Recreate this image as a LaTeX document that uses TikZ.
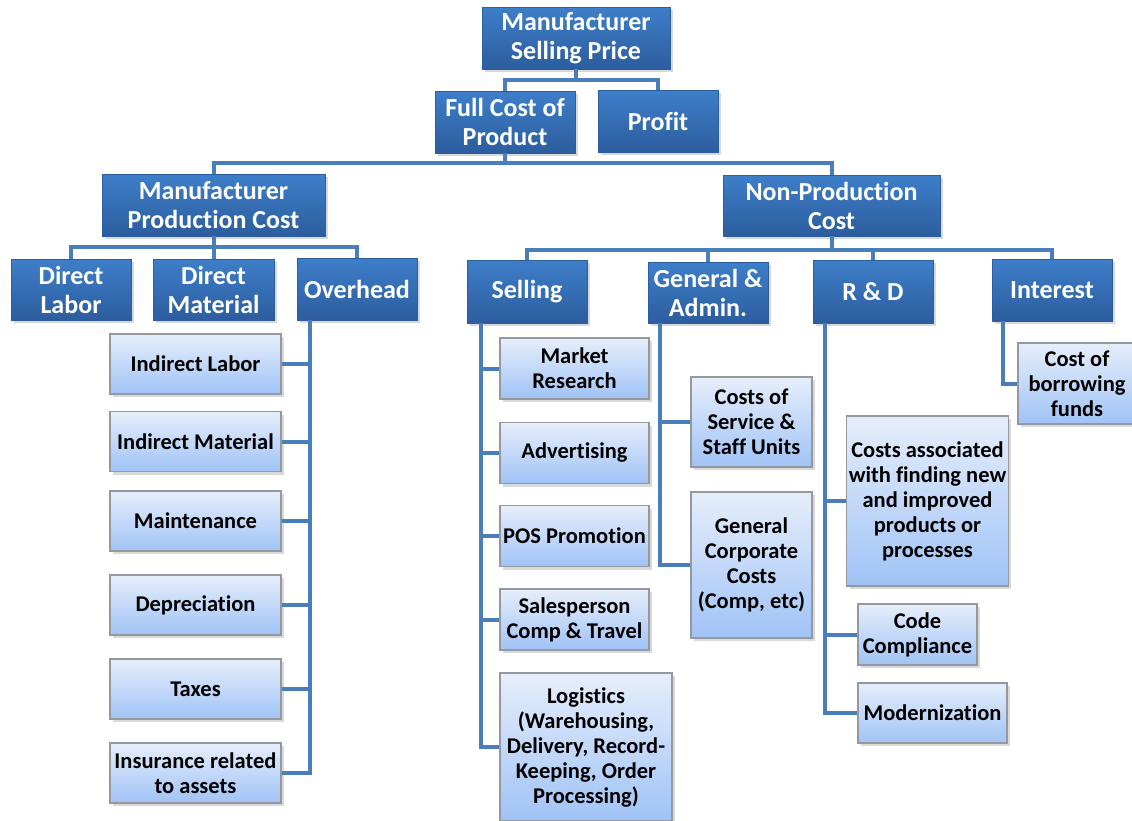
\documentclass[tikz,border=0pt]{standalone}
\usepackage{fontspec}
\setmainfont{Carlito}[Ligatures={NoCommon}]
\usetikzlibrary{positioning}
\usetikzlibrary{calc}
\usetikzlibrary{shadows}

\definecolor{darktop}{RGB}{62,126,201}
\definecolor{darkbot}{RGB}{44,93,158}
\definecolor{lighttop}{RGB}{230,238,251}
\definecolor{lightbot}{RGB}{160,195,246}
\definecolor{linkblue}{RGB}{74,126,187}
\definecolor{boxgray}{RGB}{150,152,160}

\tikzset{
  head/.style={draw=darkbot, line width=0.8pt, top color=darktop, bottom color=darkbot,
    text=white, align=center, inner sep=2pt, font=\bfseries\fontsize{26}{29}\selectfont,
    drop shadow={shadow xshift=3pt,shadow yshift=-3pt,opacity=0.3}},
  leaf/.style={draw=boxgray, line width=1.2pt, top color=lighttop, bottom color=lightbot,
    text=black, align=center, inner sep=2pt, font=\bfseries\fontsize{22.5}{25}\selectfont,
    drop shadow={shadow xshift=3pt,shadow yshift=-3pt,opacity=0.3}},
  wh/.style 2 args={minimum width=#1pt, minimum height=#2pt},
  link/.style={draw=linkblue, line width=4pt}
}

\begin{document}
\begin{tikzpicture}[x=1pt,y=-1pt]
	\clip (0,0) rectangle (1132,820);
	% price and its two parts
	\node[head, wh={188}{62}] (msp) at (576,38) {Manufacturer\\Selling Price};
	\node[head, wh={140}{62}] (fcp) at (505,122) {Full Cost of\\Product};
	\node[head, wh={120}{62}] (profit) at (658,121) {Profit};
	\node[head, wh={223}{62}] (mpc) at (213.5,205) {Manufacturer\\Production Cost};
	\node[head, wh={217}{61}] (npc) at (831.5,205.5) {Non-Production\\Cost};
	% production side
	\node[head, wh={120}{61}] (dl) at (71,289.5) {Direct\\Labor};
	\node[head, wh={121}{61}] (dm) at (213.5,289.5) {Direct\\Material};
	\node[head, wh={120}{62}] (oh) at (357,289) {Overhead};
	\node[leaf, wh={171}{60}] (il) at (195.5,364) {Indirect Labor};
	\node[leaf, wh={171}{60}] (im) at (195.5,441.5) {Indirect Material};
	\node[leaf, wh={171}{60}] (mt) at (195.5,521) {Maintenance};
	\node[leaf, wh={171}{60}] (dp) at (195.5,605) {Depreciation};
	\node[leaf, wh={171}{60}] (tx) at (195.5,689) {Taxes};
	\node[leaf, wh={171}{60}] (ins) at (195.5,773) {Insurance related\\to assets};
	% non-production side
	\node[head, wh={120}{63}] (sell) at (527,291.5) {Selling};
	\node[head, wh={120}{61}] (ga) at (708,292.5) {General \&\\Admin.};
	\node[head, wh={120}{63}] (rd) at (873,291.5) {R \& D};
	\node[head, wh={120}{62}] (int) at (1052,290) {Interest};
	\node[leaf, wh={149}{61}] (mr) at (574.5,368.5) {Market\\Research};
	\node[leaf, wh={149}{61}] (adv) at (574.5,453) {Advertising};
	\node[leaf, wh={149}{61}] (pos) at (574.5,536) {POS Promotion};
	\node[leaf, wh={149}{61}] (sp) at (574.5,619.5) {Salesperson\\Comp \& Travel};
	\node[leaf, wh={172}{148}] (log) at (586,747) {Logistics\\(Warehousing,\\Delivery, Record-\\Keeping, Order\\Processing)};
	\node[leaf, wh={121}{90}] (cos) at (751.5,422) {Costs of\\Service \&\\Staff Units};
	\node[leaf, wh={121}{146}] (gcc) at (751.5,565) {General\\Corporate\\Costs\\(Comp, etc)};
	\node[leaf, wh={159}{170}] (ca) at (927.5,501) {Costs associated\\with finding new\\and improved\\products or\\processes};
	\node[leaf, wh={119}{61}] (cc) at (917.5,634.5) {Code\\Compliance};
	\node[leaf, wh={149}{60}] (mod) at (932.5,713) {Modernization};
	\node[leaf, wh={118}{81}] (cb) at (1077,383.5) {Cost of\\borrowing\\funds};

	\draw[link] (msp.south) -- ++(0,11) -| (fcp.north);
	\draw[link] (msp.south) -- ++(0,11) -| (profit.north);
	\draw[link] (fcp.south) -- ++(0,10) -| (mpc.north);
	\draw[link] (fcp.south) -- ++(0,10) -| (npc.north);
	\foreach \n in {dl,dm,oh}
	  \draw[link] (mpc.south) -- ++(0,11) -| (\n.north);
	\foreach \n in {sell,ga,rd,int}
	  \draw[link] (npc.south) -- ++(0,14) -| (\n.north);

	\coordinate (ohl) at ([xshift=13pt]oh.south west);
	\foreach \n in {il,im,mt,dp,tx,ins}
	  \draw[link] (ohl) |- (\n.east);
	\coordinate (selll) at ([xshift=14pt]sell.south west);
	\foreach \n in {mr,adv,pos,sp,log}
	  \draw[link] (selll) |- (\n.west);
	\coordinate (gal) at ([xshift=12pt]ga.south west);
	\foreach \n in {cos,gcc}
	  \draw[link] (gal) |- (\n.west);
	\coordinate (rdl) at ([xshift=12pt]rd.south west);
	\foreach \n in {ca,cc,mod}
	  \draw[link] (rdl) |- (\n.west);
	\coordinate (intl) at ([xshift=11pt]int.south west);
	\draw[link] (intl) |- (cb.west);
\end{tikzpicture}
\end{document}
